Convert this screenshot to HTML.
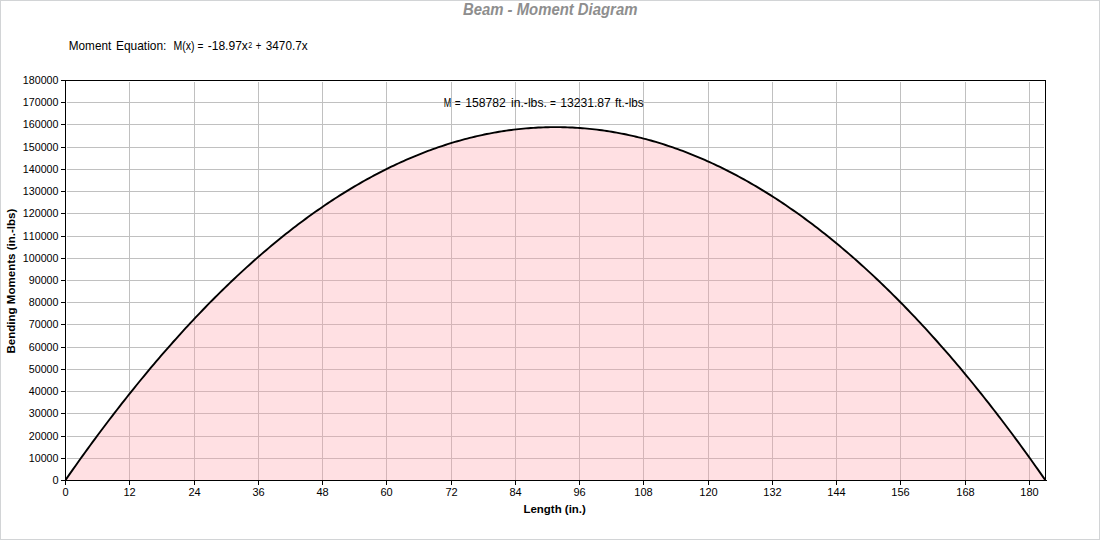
<!DOCTYPE html>
<html><head><meta charset="utf-8"><style>
html,body{margin:0;padding:0;background:#fff;}
body{width:1100px;height:540px;overflow:hidden;position:relative;}
svg{position:absolute;left:0;top:0;}
text{font-family:"Liberation Sans",sans-serif;font-size:11px;fill:#000;font-kerning:none;}
</style></head><body>
<svg width="1100" height="540" viewBox="0 0 1100 540">
<rect x="0.5" y="0.5" width="1099" height="539" fill="#fff" stroke="#d2d4d6" stroke-width="1"/>
<path d="M67,102.5H1044M67,124.5H1044M67,147.5H1044M67,169.5H1044M67,191.5H1044M67,213.5H1044M67,236.5H1044M67,258.5H1044M67,280.5H1044M67,302.5H1044M67,324.5H1044M67,347.5H1044M67,369.5H1044M67,391.5H1044M67,413.5H1044M67,436.5H1044M67,458.5H1044M129.5,82V480M194.5,82V480M258.5,82V480M322.5,82V480M386.5,82V480M451.5,82V480M515.5,82V480M579.5,82V480M643.5,82V480M708.5,82V480M772.5,82V480M836.5,82V480M900.5,82V480M965.5,82V480M1029.5,82V480" stroke="#c0c0c0" stroke-width="1" fill="none" shape-rendering="crispEdges"/>
<path d="M65.60,479.90 L68.05,476.38 L70.50,472.88 L72.95,469.40 L75.40,465.93 L77.84,462.48 L80.29,459.05 L82.74,455.64 L85.19,452.24 L87.64,448.86 L90.09,445.50 L92.54,442.16 L94.99,438.84 L97.44,435.53 L99.88,432.24 L102.33,428.97 L104.78,425.71 L107.23,422.48 L109.68,419.26 L112.13,416.06 L114.58,412.87 L117.03,409.71 L119.48,406.56 L121.92,403.43 L124.37,400.31 L126.82,397.22 L129.27,394.14 L131.72,391.08 L134.17,388.04 L136.62,385.01 L139.07,382.01 L141.52,379.02 L143.96,376.04 L146.41,373.09 L148.86,370.15 L151.31,367.23 L153.76,364.33 L156.21,361.45 L158.66,358.58 L161.11,355.73 L163.56,352.90 L166.00,350.09 L168.45,347.29 L170.90,344.51 L173.35,341.75 L175.80,339.01 L178.25,336.29 L180.70,333.58 L183.15,330.89 L185.60,328.22 L188.04,325.56 L190.49,322.93 L192.94,320.31 L195.39,317.70 L197.84,315.12 L200.29,312.55 L202.74,310.00 L205.19,307.47 L207.64,304.96 L210.08,302.46 L212.53,299.99 L214.98,297.53 L217.43,295.08 L219.88,292.66 L222.33,290.25 L224.78,287.86 L227.23,285.49 L229.68,283.13 L232.12,280.80 L234.57,278.48 L237.02,276.17 L239.47,273.89 L241.92,271.62 L244.37,269.37 L246.82,267.14 L249.27,264.93 L251.72,262.73 L254.16,260.56 L256.61,258.39 L259.06,256.25 L261.51,254.13 L263.96,252.02 L266.41,249.93 L268.86,247.86 L271.31,245.80 L273.76,243.76 L276.20,241.74 L278.65,239.74 L281.10,237.76 L283.55,235.79 L286.00,233.84 L288.45,231.91 L290.90,230.00 L293.35,228.10 L295.80,226.22 L298.24,224.36 L300.69,222.52 L303.14,220.69 L305.59,218.88 L308.04,217.09 L310.49,215.32 L312.94,213.57 L315.39,211.83 L317.83,210.11 L320.28,208.41 L322.73,206.72 L325.18,205.06 L327.63,203.41 L330.08,201.77 L332.53,200.16 L334.98,198.56 L337.43,196.99 L339.87,195.42 L342.32,193.88 L344.77,192.36 L347.22,190.85 L349.67,189.36 L352.12,187.88 L354.57,186.43 L357.02,184.99 L359.47,183.57 L361.91,182.17 L364.36,180.78 L366.81,179.42 L369.26,178.07 L371.71,176.74 L374.16,175.42 L376.61,174.13 L379.06,172.85 L381.51,171.59 L383.95,170.34 L386.40,169.12 L388.85,167.91 L391.30,166.72 L393.75,165.54 L396.20,164.39 L398.65,163.25 L401.10,162.13 L403.55,161.03 L405.99,159.94 L408.44,158.88 L410.89,157.83 L413.34,156.80 L415.79,155.78 L418.24,154.79 L420.69,153.81 L423.14,152.84 L425.59,151.90 L428.03,150.98 L430.48,150.07 L432.93,149.18 L435.38,148.30 L437.83,147.45 L440.28,146.61 L442.73,145.79 L445.18,144.99 L447.63,144.20 L450.07,143.43 L452.52,142.69 L454.97,141.95 L457.42,141.24 L459.87,140.54 L462.32,139.86 L464.77,139.20 L467.22,138.56 L469.67,137.93 L472.11,137.32 L474.56,136.73 L477.01,136.16 L479.46,135.60 L481.91,135.07 L484.36,134.54 L486.81,134.04 L489.26,133.56 L491.71,133.09 L494.15,132.64 L496.60,132.21 L499.05,131.79 L501.50,131.40 L503.95,131.02 L506.40,130.66 L508.85,130.31 L511.30,129.99 L513.75,129.68 L516.19,129.39 L518.64,129.11 L521.09,128.86 L523.54,128.62 L525.99,128.40 L528.44,128.19 L530.89,128.01 L533.34,127.84 L535.79,127.69 L538.23,127.56 L540.68,127.45 L543.13,127.35 L545.58,127.27 L548.03,127.21 L550.48,127.16 L552.93,127.14 L555.38,127.13 L557.83,127.14 L560.27,127.16 L562.72,127.21 L565.17,127.27 L567.62,127.35 L570.07,127.45 L572.52,127.56 L574.97,127.69 L577.42,127.84 L579.87,128.01 L582.31,128.19 L584.76,128.40 L587.21,128.62 L589.66,128.86 L592.11,129.11 L594.56,129.39 L597.01,129.68 L599.46,129.99 L601.91,130.31 L604.35,130.66 L606.80,131.02 L609.25,131.40 L611.70,131.79 L614.15,132.21 L616.60,132.64 L619.05,133.09 L621.50,133.56 L623.95,134.04 L626.39,134.54 L628.84,135.07 L631.29,135.60 L633.74,136.16 L636.19,136.73 L638.64,137.32 L641.09,137.93 L643.54,138.56 L645.99,139.20 L648.43,139.86 L650.88,140.54 L653.33,141.24 L655.78,141.95 L658.23,142.69 L660.68,143.43 L663.13,144.20 L665.58,144.99 L668.03,145.79 L670.47,146.61 L672.92,147.45 L675.37,148.30 L677.82,149.18 L680.27,150.07 L682.72,150.98 L685.17,151.90 L687.62,152.84 L690.07,153.81 L692.51,154.79 L694.96,155.78 L697.41,156.80 L699.86,157.83 L702.31,158.88 L704.76,159.94 L707.21,161.03 L709.66,162.13 L712.11,163.25 L714.55,164.39 L717.00,165.54 L719.45,166.72 L721.90,167.91 L724.35,169.12 L726.80,170.34 L729.25,171.59 L731.70,172.85 L734.15,174.13 L736.59,175.42 L739.04,176.74 L741.49,178.07 L743.94,179.42 L746.39,180.78 L748.84,182.17 L751.29,183.57 L753.74,184.99 L756.19,186.43 L758.63,187.88 L761.08,189.36 L763.53,190.85 L765.98,192.36 L768.43,193.88 L770.88,195.42 L773.33,196.99 L775.78,198.56 L778.23,200.16 L780.67,201.77 L783.12,203.41 L785.57,205.06 L788.02,206.72 L790.47,208.41 L792.92,210.11 L795.37,211.83 L797.82,213.57 L800.27,215.32 L802.71,217.09 L805.16,218.88 L807.61,220.69 L810.06,222.52 L812.51,224.36 L814.96,226.22 L817.41,228.10 L819.86,230.00 L822.30,231.91 L824.75,233.84 L827.20,235.79 L829.65,237.76 L832.10,239.74 L834.55,241.74 L837.00,243.76 L839.45,245.80 L841.90,247.86 L844.34,249.93 L846.79,252.02 L849.24,254.13 L851.69,256.25 L854.14,258.39 L856.59,260.56 L859.04,262.73 L861.49,264.93 L863.94,267.14 L866.38,269.37 L868.83,271.62 L871.28,273.89 L873.73,276.17 L876.18,278.48 L878.63,280.80 L881.08,283.13 L883.53,285.49 L885.98,287.86 L888.42,290.25 L890.87,292.66 L893.32,295.08 L895.77,297.53 L898.22,299.99 L900.67,302.46 L903.12,304.96 L905.57,307.47 L908.02,310.00 L910.46,312.55 L912.91,315.12 L915.36,317.70 L917.81,320.31 L920.26,322.93 L922.71,325.56 L925.16,328.22 L927.61,330.89 L930.06,333.58 L932.50,336.29 L934.95,339.01 L937.40,341.75 L939.85,344.51 L942.30,347.29 L944.75,350.09 L947.20,352.90 L949.65,355.73 L952.10,358.58 L954.54,361.45 L956.99,364.33 L959.44,367.23 L961.89,370.15 L964.34,373.09 L966.79,376.04 L969.24,379.02 L971.69,382.01 L974.14,385.01 L976.58,388.04 L979.03,391.08 L981.48,394.14 L983.93,397.22 L986.38,400.31 L988.83,403.43 L991.28,406.56 L993.73,409.71 L996.18,412.87 L998.62,416.06 L1001.07,419.26 L1003.52,422.48 L1005.97,425.71 L1008.42,428.97 L1010.87,432.24 L1013.32,435.53 L1015.77,438.84 L1018.22,442.16 L1020.66,445.50 L1023.11,448.86 L1025.56,452.24 L1028.01,455.64 L1030.46,459.05 L1032.91,462.48 L1035.36,465.93 L1037.81,469.40 L1040.26,472.88 L1042.70,476.38 L1045.15,479.90 L65.6,480 Z" fill="rgb(255,158,168)" fill-opacity="0.32" stroke="none"/>
<path d="M65.5,80.5H1045.5V480.5H65.5Z" stroke="#000" stroke-width="1" fill="none" shape-rendering="crispEdges"/>
<path d="M1045,480.5H1047" stroke="#000" stroke-width="1" shape-rendering="crispEdges"/>
<path d="M61,80.5H65M61,102.5H65M61,124.5H65M61,147.5H65M61,169.5H65M61,191.5H65M61,213.5H65M61,236.5H65M61,258.5H65M61,280.5H65M61,302.5H65M61,324.5H65M61,347.5H65M61,369.5H65M61,391.5H65M61,413.5H65M61,436.5H65M61,458.5H65M61,480.5H65M65.5,480V485M129.5,480V485M194.5,480V485M258.5,480V485M322.5,480V485M386.5,480V485M451.5,480V485M515.5,480V485M579.5,480V485M643.5,480V485M708.5,480V485M772.5,480V485M836.5,480V485M900.5,480V485M965.5,480V485M1029.5,480V485" stroke="#000" stroke-width="1" fill="none" shape-rendering="crispEdges"/>
<path d="M65.60,479.90 L68.05,476.38 L70.50,472.88 L72.95,469.40 L75.40,465.93 L77.84,462.48 L80.29,459.05 L82.74,455.64 L85.19,452.24 L87.64,448.86 L90.09,445.50 L92.54,442.16 L94.99,438.84 L97.44,435.53 L99.88,432.24 L102.33,428.97 L104.78,425.71 L107.23,422.48 L109.68,419.26 L112.13,416.06 L114.58,412.87 L117.03,409.71 L119.48,406.56 L121.92,403.43 L124.37,400.31 L126.82,397.22 L129.27,394.14 L131.72,391.08 L134.17,388.04 L136.62,385.01 L139.07,382.01 L141.52,379.02 L143.96,376.04 L146.41,373.09 L148.86,370.15 L151.31,367.23 L153.76,364.33 L156.21,361.45 L158.66,358.58 L161.11,355.73 L163.56,352.90 L166.00,350.09 L168.45,347.29 L170.90,344.51 L173.35,341.75 L175.80,339.01 L178.25,336.29 L180.70,333.58 L183.15,330.89 L185.60,328.22 L188.04,325.56 L190.49,322.93 L192.94,320.31 L195.39,317.70 L197.84,315.12 L200.29,312.55 L202.74,310.00 L205.19,307.47 L207.64,304.96 L210.08,302.46 L212.53,299.99 L214.98,297.53 L217.43,295.08 L219.88,292.66 L222.33,290.25 L224.78,287.86 L227.23,285.49 L229.68,283.13 L232.12,280.80 L234.57,278.48 L237.02,276.17 L239.47,273.89 L241.92,271.62 L244.37,269.37 L246.82,267.14 L249.27,264.93 L251.72,262.73 L254.16,260.56 L256.61,258.39 L259.06,256.25 L261.51,254.13 L263.96,252.02 L266.41,249.93 L268.86,247.86 L271.31,245.80 L273.76,243.76 L276.20,241.74 L278.65,239.74 L281.10,237.76 L283.55,235.79 L286.00,233.84 L288.45,231.91 L290.90,230.00 L293.35,228.10 L295.80,226.22 L298.24,224.36 L300.69,222.52 L303.14,220.69 L305.59,218.88 L308.04,217.09 L310.49,215.32 L312.94,213.57 L315.39,211.83 L317.83,210.11 L320.28,208.41 L322.73,206.72 L325.18,205.06 L327.63,203.41 L330.08,201.77 L332.53,200.16 L334.98,198.56 L337.43,196.99 L339.87,195.42 L342.32,193.88 L344.77,192.36 L347.22,190.85 L349.67,189.36 L352.12,187.88 L354.57,186.43 L357.02,184.99 L359.47,183.57 L361.91,182.17 L364.36,180.78 L366.81,179.42 L369.26,178.07 L371.71,176.74 L374.16,175.42 L376.61,174.13 L379.06,172.85 L381.51,171.59 L383.95,170.34 L386.40,169.12 L388.85,167.91 L391.30,166.72 L393.75,165.54 L396.20,164.39 L398.65,163.25 L401.10,162.13 L403.55,161.03 L405.99,159.94 L408.44,158.88 L410.89,157.83 L413.34,156.80 L415.79,155.78 L418.24,154.79 L420.69,153.81 L423.14,152.84 L425.59,151.90 L428.03,150.98 L430.48,150.07 L432.93,149.18 L435.38,148.30 L437.83,147.45 L440.28,146.61 L442.73,145.79 L445.18,144.99 L447.63,144.20 L450.07,143.43 L452.52,142.69 L454.97,141.95 L457.42,141.24 L459.87,140.54 L462.32,139.86 L464.77,139.20 L467.22,138.56 L469.67,137.93 L472.11,137.32 L474.56,136.73 L477.01,136.16 L479.46,135.60 L481.91,135.07 L484.36,134.54 L486.81,134.04 L489.26,133.56 L491.71,133.09 L494.15,132.64 L496.60,132.21 L499.05,131.79 L501.50,131.40 L503.95,131.02 L506.40,130.66 L508.85,130.31 L511.30,129.99 L513.75,129.68 L516.19,129.39 L518.64,129.11 L521.09,128.86 L523.54,128.62 L525.99,128.40 L528.44,128.19 L530.89,128.01 L533.34,127.84 L535.79,127.69 L538.23,127.56 L540.68,127.45 L543.13,127.35 L545.58,127.27 L548.03,127.21 L550.48,127.16 L552.93,127.14 L555.38,127.13 L557.83,127.14 L560.27,127.16 L562.72,127.21 L565.17,127.27 L567.62,127.35 L570.07,127.45 L572.52,127.56 L574.97,127.69 L577.42,127.84 L579.87,128.01 L582.31,128.19 L584.76,128.40 L587.21,128.62 L589.66,128.86 L592.11,129.11 L594.56,129.39 L597.01,129.68 L599.46,129.99 L601.91,130.31 L604.35,130.66 L606.80,131.02 L609.25,131.40 L611.70,131.79 L614.15,132.21 L616.60,132.64 L619.05,133.09 L621.50,133.56 L623.95,134.04 L626.39,134.54 L628.84,135.07 L631.29,135.60 L633.74,136.16 L636.19,136.73 L638.64,137.32 L641.09,137.93 L643.54,138.56 L645.99,139.20 L648.43,139.86 L650.88,140.54 L653.33,141.24 L655.78,141.95 L658.23,142.69 L660.68,143.43 L663.13,144.20 L665.58,144.99 L668.03,145.79 L670.47,146.61 L672.92,147.45 L675.37,148.30 L677.82,149.18 L680.27,150.07 L682.72,150.98 L685.17,151.90 L687.62,152.84 L690.07,153.81 L692.51,154.79 L694.96,155.78 L697.41,156.80 L699.86,157.83 L702.31,158.88 L704.76,159.94 L707.21,161.03 L709.66,162.13 L712.11,163.25 L714.55,164.39 L717.00,165.54 L719.45,166.72 L721.90,167.91 L724.35,169.12 L726.80,170.34 L729.25,171.59 L731.70,172.85 L734.15,174.13 L736.59,175.42 L739.04,176.74 L741.49,178.07 L743.94,179.42 L746.39,180.78 L748.84,182.17 L751.29,183.57 L753.74,184.99 L756.19,186.43 L758.63,187.88 L761.08,189.36 L763.53,190.85 L765.98,192.36 L768.43,193.88 L770.88,195.42 L773.33,196.99 L775.78,198.56 L778.23,200.16 L780.67,201.77 L783.12,203.41 L785.57,205.06 L788.02,206.72 L790.47,208.41 L792.92,210.11 L795.37,211.83 L797.82,213.57 L800.27,215.32 L802.71,217.09 L805.16,218.88 L807.61,220.69 L810.06,222.52 L812.51,224.36 L814.96,226.22 L817.41,228.10 L819.86,230.00 L822.30,231.91 L824.75,233.84 L827.20,235.79 L829.65,237.76 L832.10,239.74 L834.55,241.74 L837.00,243.76 L839.45,245.80 L841.90,247.86 L844.34,249.93 L846.79,252.02 L849.24,254.13 L851.69,256.25 L854.14,258.39 L856.59,260.56 L859.04,262.73 L861.49,264.93 L863.94,267.14 L866.38,269.37 L868.83,271.62 L871.28,273.89 L873.73,276.17 L876.18,278.48 L878.63,280.80 L881.08,283.13 L883.53,285.49 L885.98,287.86 L888.42,290.25 L890.87,292.66 L893.32,295.08 L895.77,297.53 L898.22,299.99 L900.67,302.46 L903.12,304.96 L905.57,307.47 L908.02,310.00 L910.46,312.55 L912.91,315.12 L915.36,317.70 L917.81,320.31 L920.26,322.93 L922.71,325.56 L925.16,328.22 L927.61,330.89 L930.06,333.58 L932.50,336.29 L934.95,339.01 L937.40,341.75 L939.85,344.51 L942.30,347.29 L944.75,350.09 L947.20,352.90 L949.65,355.73 L952.10,358.58 L954.54,361.45 L956.99,364.33 L959.44,367.23 L961.89,370.15 L964.34,373.09 L966.79,376.04 L969.24,379.02 L971.69,382.01 L974.14,385.01 L976.58,388.04 L979.03,391.08 L981.48,394.14 L983.93,397.22 L986.38,400.31 L988.83,403.43 L991.28,406.56 L993.73,409.71 L996.18,412.87 L998.62,416.06 L1001.07,419.26 L1003.52,422.48 L1005.97,425.71 L1008.42,428.97 L1010.87,432.24 L1013.32,435.53 L1015.77,438.84 L1018.22,442.16 L1020.66,445.50 L1023.11,448.86 L1025.56,452.24 L1028.01,455.64 L1030.46,459.05 L1032.91,462.48 L1035.36,465.93 L1037.81,469.40 L1040.26,472.88 L1042.70,476.38 L1045.15,479.90" stroke="#000" stroke-width="1.9" fill="none" stroke-linejoin="round"/>
<text x="58.5" y="84" text-anchor="end" textLength="35.69" lengthAdjust="spacingAndGlyphs">180000</text><text x="58.5" y="106" text-anchor="end" textLength="35.69" lengthAdjust="spacingAndGlyphs">170000</text><text x="58.5" y="128" text-anchor="end" textLength="35.69" lengthAdjust="spacingAndGlyphs">160000</text><text x="58.5" y="151" text-anchor="end" textLength="35.69" lengthAdjust="spacingAndGlyphs">150000</text><text x="58.5" y="173" text-anchor="end" textLength="35.69" lengthAdjust="spacingAndGlyphs">140000</text><text x="58.5" y="195" text-anchor="end" textLength="35.69" lengthAdjust="spacingAndGlyphs">130000</text><text x="58.5" y="217" text-anchor="end" textLength="35.69" lengthAdjust="spacingAndGlyphs">120000</text><text x="58.5" y="240" text-anchor="end" textLength="35.69" lengthAdjust="spacingAndGlyphs">110000</text><text x="58.5" y="262" text-anchor="end" textLength="35.69" lengthAdjust="spacingAndGlyphs">100000</text><text x="58.5" y="284" text-anchor="end" textLength="29.74" lengthAdjust="spacingAndGlyphs">90000</text><text x="58.5" y="306" text-anchor="end" textLength="29.74" lengthAdjust="spacingAndGlyphs">80000</text><text x="58.5" y="328" text-anchor="end" textLength="29.74" lengthAdjust="spacingAndGlyphs">70000</text><text x="58.5" y="351" text-anchor="end" textLength="29.74" lengthAdjust="spacingAndGlyphs">60000</text><text x="58.5" y="373" text-anchor="end" textLength="29.74" lengthAdjust="spacingAndGlyphs">50000</text><text x="58.5" y="395" text-anchor="end" textLength="29.74" lengthAdjust="spacingAndGlyphs">40000</text><text x="58.5" y="417" text-anchor="end" textLength="29.74" lengthAdjust="spacingAndGlyphs">30000</text><text x="58.5" y="440" text-anchor="end" textLength="29.74" lengthAdjust="spacingAndGlyphs">20000</text><text x="58.5" y="462" text-anchor="end" textLength="29.74" lengthAdjust="spacingAndGlyphs">10000</text><text x="58.5" y="484" text-anchor="end" textLength="6.12" lengthAdjust="spacingAndGlyphs">0</text>
<text x="65.5" y="496" text-anchor="middle">0</text><text x="129.5" y="496" text-anchor="middle">12</text><text x="194.5" y="496" text-anchor="middle">24</text><text x="258.5" y="496" text-anchor="middle">36</text><text x="322.5" y="496" text-anchor="middle">48</text><text x="386.5" y="496" text-anchor="middle">60</text><text x="451.5" y="496" text-anchor="middle">72</text><text x="515.5" y="496" text-anchor="middle">84</text><text x="579.5" y="496" text-anchor="middle">96</text><text x="643.5" y="496" text-anchor="middle">108</text><text x="708.5" y="496" text-anchor="middle">120</text><text x="772.5" y="496" text-anchor="middle">132</text><text x="836.5" y="496" text-anchor="middle">144</text><text x="900.5" y="496" text-anchor="middle">156</text><text x="965.5" y="496" text-anchor="middle">168</text><text x="1029.5" y="496" text-anchor="middle">180</text>
<text transform="translate(15,353.50) rotate(-90)" x="0" y="0" textLength="144.81" lengthAdjust="spacingAndGlyphs" style="font-weight:bold">Bending Moments (in.-lbs)</text>
<text x="68.80" y="50" textLength="42.40" lengthAdjust="spacingAndGlyphs" style="font-size:12.8px">Moment</text><text x="116.00" y="50" textLength="50.37" lengthAdjust="spacingAndGlyphs" style="font-size:12.8px">Equation:</text><text x="173.60" y="50" textLength="20.99" lengthAdjust="spacingAndGlyphs" style="font-size:12.8px">M(x)</text><text x="197.60" y="50" textLength="5.89" lengthAdjust="spacingAndGlyphs" style="font-size:12.8px">=</text><text x="207.70" y="50" textLength="40.21" lengthAdjust="spacingAndGlyphs" style="font-size:12.8px">-18.97x</text><text x="248.30" y="48" textLength="3.91" lengthAdjust="spacingAndGlyphs" style="font-size:9px">2</text><text x="255.70" y="50" textLength="5.56" lengthAdjust="spacingAndGlyphs" style="font-size:12.8px">+</text><text x="265.80" y="50" textLength="41.78" lengthAdjust="spacingAndGlyphs" style="font-size:12.8px">3470.7x</text><text x="443.80" y="107" textLength="7.47" lengthAdjust="spacingAndGlyphs" style="font-size:12.8px">M</text><text x="454.70" y="107" textLength="5.89" lengthAdjust="spacingAndGlyphs" style="font-size:12.8px">=</text><text x="465.25" y="107" textLength="40.57" lengthAdjust="spacingAndGlyphs" style="font-size:12.8px">158782</text><text x="511.00" y="107" textLength="35.87" lengthAdjust="spacingAndGlyphs" style="font-size:12.8px">in.-lbs.</text><text x="549.90" y="107" textLength="5.89" lengthAdjust="spacingAndGlyphs" style="font-size:12.8px">=</text><text x="560.15" y="107" textLength="50.71" lengthAdjust="spacingAndGlyphs" style="font-size:12.8px">13231.87</text><text x="615.10" y="107" textLength="28.56" lengthAdjust="spacingAndGlyphs" style="font-size:12.8px">ft.-lbs</text><text x="462.90" y="15" textLength="174.52" lengthAdjust="spacingAndGlyphs" style="font-size:16px;font-weight:bold;font-style:italic;fill:#8e8e8e">Beam - Moment Diagram</text><text x="523.50" y="513" textLength="62.37" lengthAdjust="spacingAndGlyphs" style="font-size:11px;font-weight:bold">Length (in.)</text>
</svg>
</body></html>
